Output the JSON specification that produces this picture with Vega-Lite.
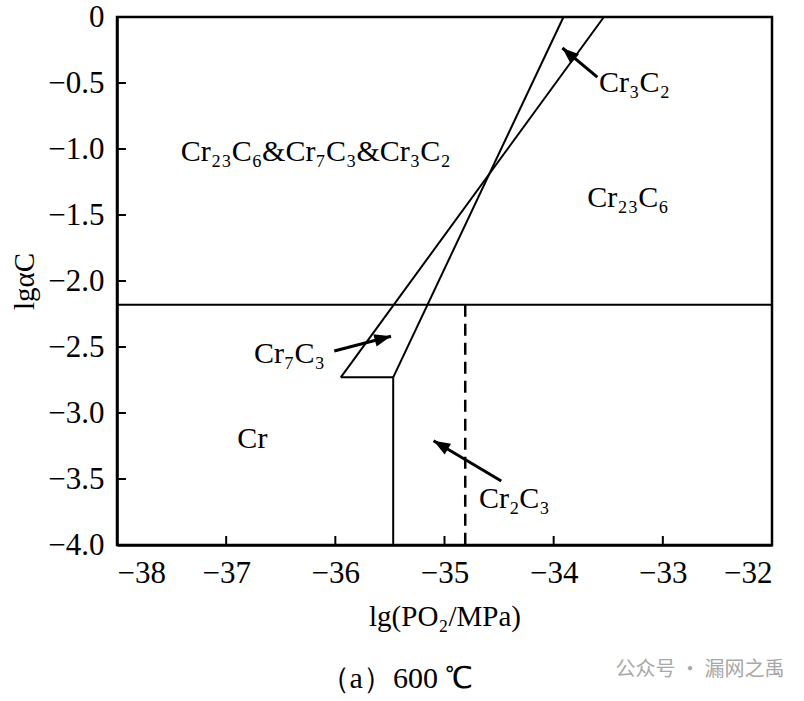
{
  "$schema": "https://vega.github.io/schema/vega-lite/v6.json",
  "width": 655,
  "height": 528,
  "autosize": "none",
  "padding": {"left": 117, "top": 17, "right": 32, "bottom": 156},
  "background": "white",
  "config": {
    "view": {"stroke": "black", "strokeWidth": 2.5},
    "font": "Liberation Serif",
    "axis": {
      "grid": false,
      "domainColor": "black",
      "domainWidth": 2.5,
      "tickColor": "black",
      "tickWidth": 2,
      "labelColor": "black",
      "labelFont": "Liberation Serif",
      "labelFontSize": 31,
      "titleFont": "Liberation Serif",
      "titleFontSize": 29,
      "titleFontWeight": "normal",
      "titleColor": "black"
    }
  },
  "title": {
    "text": "（a）600 ℃",
    "orient": "bottom",
    "anchor": "middle",
    "font": "Liberation Serif",
    "fontSize": 30,
    "fontWeight": "normal",
    "color": "black",
    "offset": -16,
    "dx": -48
  },
  "datasets": {
    "segments": [
      {"kind": "stable", "x": -38, "y": -2.18, "xe": -32, "ye": -2.18},
      {"kind": "stable", "x": -35.95, "y": -2.73, "xe": -33.54, "ye": 0},
      {"kind": "stable", "x": -35.47, "y": -2.73, "xe": -33.91, "ye": 0},
      {"kind": "stable", "x": -35.95, "y": -2.73, "xe": -35.47, "ye": -2.73},
      {"kind": "stable", "x": -35.47, "y": -2.73, "xe": -35.47, "ye": -4},
      {"kind": "metastable", "x": -34.81, "y": -2.18, "xe": -34.81, "ye": -4}
    ],
    "xticks": [
      {"value": -37, "from": -4, "to": -3.932},
      {"value": -36, "from": -4, "to": -3.932},
      {"value": -35, "from": -4, "to": -3.932},
      {"value": -34, "from": -4, "to": -3.932},
      {"value": -33, "from": -4, "to": -3.932}
    ],
    "yticks": [
      {"value": -3.5, "from": -38, "to": -37.918},
      {"value": -3, "from": -38, "to": -37.918},
      {"value": -2.5, "from": -38, "to": -37.918},
      {"value": -2, "from": -38, "to": -37.918},
      {"value": -1.5, "from": -38, "to": -37.918},
      {"value": -1, "from": -38, "to": -37.918},
      {"value": -0.5, "from": -38, "to": -37.918}
    ],
    "arrows": [
      {"label": "Cr3C2", "x": -33.6, "y": -0.455, "xe": -33.92, "ye": -0.235, "dir": 311.5},
      {"label": "Cr7C3", "x": -36.01, "y": -2.53, "xe": -35.49, "ye": -2.418, "dir": 75.3},
      {"label": "Cr2C3", "x": -34.48, "y": -3.515, "xe": -35.1, "ye": -3.21, "dir": 300.6}
    ],
    "labels": [
      {"text": "Cr₂₃C₆&Cr₇C₃&Cr₃C₂", "x": -36.18, "y": -1.02},
      {"text": "Cr₂₃C₆", "x": -33.32, "y": -1.37},
      {"text": "Cr₃C₂", "x": -33.26, "y": -0.5},
      {"text": "Cr₇C₃", "x": -36.42, "y": -2.55},
      {"text": "Cr", "x": -36.76, "y": -3.2},
      {"text": "Cr₂C₃", "x": -34.36, "y": -3.65}
    ],
    "watermark": [
      {"text": "公众号 · 漏网之禹", "x": -32.66, "y": -4.95}
    ]
  },
  "layer": [
    {
      "data": {"name": "segments"},
      "transform": [{"filter": "datum.kind === 'stable'"}],
      "mark": {"type": "rule", "color": "black", "strokeWidth": 2},
      "encoding": {
        "x": {
          "field": "x", "type": "quantitative",
          "scale": {"domain": [-38, -32], "nice": false, "zero": false},
          "axis": {
            "values": [-38, -37, -36, -35, -34, -33, -32], "format": "d",
            "tickSize": 0, "labelPadding": 13, "title": "lg(PO₂/MPa)", "titlePadding": 14
          }
        },
        "x2": {"field": "xe"},
        "y": {
          "field": "y", "type": "quantitative",
          "scale": {"domain": [-4, 0], "nice": false, "zero": false},
          "axis": {
            "values": [-4, -3.5, -3, -2.5, -2, -1.5, -1, -0.5, 0],
            "labelExpr": "datum.value === 0 ? '0' : format(datum.value, '.1f')",
            "tickSize": 0, "labelPadding": 13, "title": "lgαC", "titlePadding": 8
          }
        },
        "y2": {"field": "ye"}
      }
    },
    {
      "data": {"name": "segments"},
      "transform": [{"filter": "datum.kind === 'metastable'"}],
      "mark": {"type": "rule", "color": "black", "strokeWidth": 2.5, "strokeDash": [12, 7]},
      "encoding": {
        "x": {"field": "x", "type": "quantitative"},
        "x2": {"field": "xe"},
        "y": {"field": "y", "type": "quantitative"},
        "y2": {"field": "ye"}
      }
    },
    {
      "data": {"name": "xticks"},
      "mark": {"type": "rule", "color": "black", "strokeWidth": 2},
      "encoding": {
        "x": {"field": "value", "type": "quantitative"},
        "y": {"field": "from", "type": "quantitative"},
        "y2": {"field": "to"}
      }
    },
    {
      "data": {"name": "yticks"},
      "mark": {"type": "rule", "color": "black", "strokeWidth": 2},
      "encoding": {
        "y": {"field": "value", "type": "quantitative"},
        "x": {"field": "from", "type": "quantitative"},
        "x2": {"field": "to"}
      }
    },
    {
      "data": {"name": "arrows"},
      "mark": {"type": "rule", "color": "black", "strokeWidth": 3},
      "encoding": {
        "x": {"field": "x", "type": "quantitative"},
        "x2": {"field": "xe"},
        "y": {"field": "y", "type": "quantitative"},
        "y2": {"field": "ye"}
      }
    },
    {
      "data": {"name": "arrows"},
      "mark": {"type": "point", "shape": "M0,0L-0.38,1L0.38,1Z", "filled": true, "color": "black", "opacity": 1, "size": 1100},
      "encoding": {
        "x": {"field": "xe", "type": "quantitative"},
        "y": {"field": "ye", "type": "quantitative"},
        "angle": {"field": "dir", "type": "quantitative", "scale": null}
      }
    },
    {
      "data": {"name": "labels"},
      "mark": {"type": "text", "font": "Liberation Serif", "fontSize": 30, "color": "black", "align": "center", "baseline": "middle"},
      "encoding": {
        "x": {"field": "x", "type": "quantitative"},
        "y": {"field": "y", "type": "quantitative"},
        "text": {"field": "text"}
      }
    },
    {
      "data": {"name": "watermark"},
      "mark": {"type": "text", "font": "Noto Sans CJK SC", "fontSize": 20, "color": "#a8a8a8", "align": "center", "baseline": "middle", "clip": false},
      "encoding": {
        "x": {"field": "x", "type": "quantitative"},
        "y": {"field": "y", "type": "quantitative"},
        "text": {"field": "text"}
      }
    }
  ]
}
